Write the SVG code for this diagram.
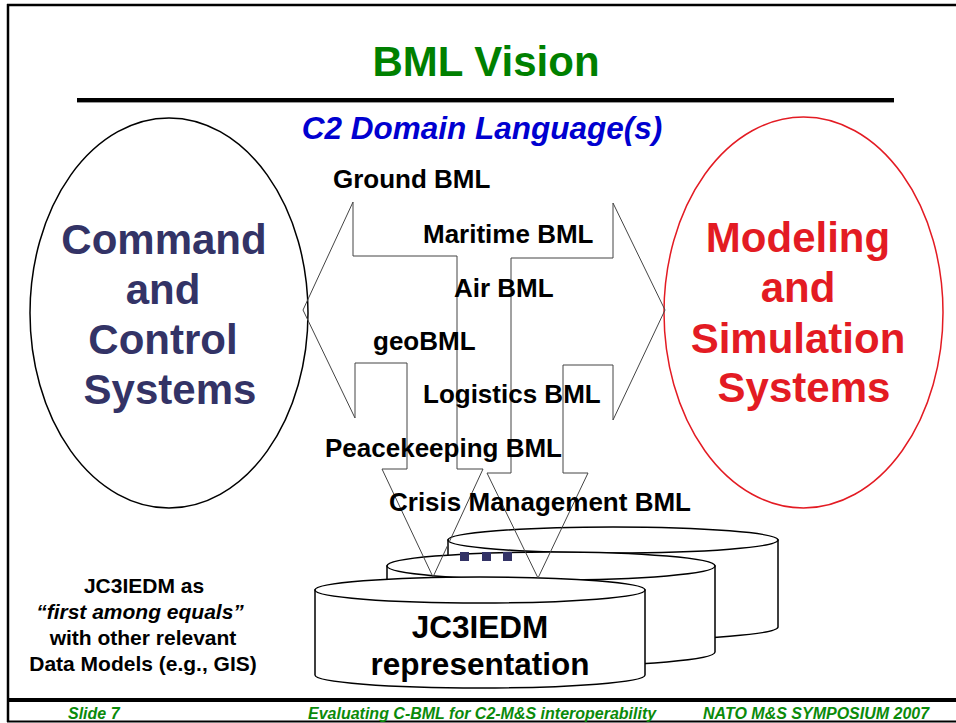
<svg xmlns="http://www.w3.org/2000/svg" width="956" height="723" viewBox="0 0 956 723">
<style>
text{font-family:"Liberation Sans",Arial,sans-serif;font-weight:bold}
.lbl{font-size:26px;fill:#000}
.c2{font-size:42px;fill:#333366;text-anchor:middle}
.ms{font-size:42px;fill:#e31b23;text-anchor:middle}
.note{font-size:21px;fill:#000;text-anchor:middle}
.foot{font-size:16px;fill:#0a8a0a;font-style:italic}
.cyl{fill:#fff;stroke:#000;stroke-width:1.5}
.arr{fill:none;stroke:#444;stroke-width:1}
</style>
<rect width="956" height="723" fill="#fff"/>
<g id="frame">
<line x1="7" y1="5" x2="956" y2="5" stroke="#000" stroke-width="2.5"/>
<line x1="8" y1="4" x2="8" y2="722" stroke="#000" stroke-width="2.5"/>
<line x1="7" y1="721.5" x2="956" y2="721.5" stroke="#000" stroke-width="2"/>
<line x1="8" y1="700" x2="956" y2="700" stroke="#000" stroke-width="4"/>
<rect x="77" y="98" width="817" height="4" fill="#000"/>
<line x1="77" y1="102.5" x2="894" y2="102.5" stroke="#999" stroke-width="1"/>
</g>
<g id="title"><text x="486" y="76" font-size="42" fill="#008000" text-anchor="middle">BML Vision</text></g>
<g id="subtitle"><text x="482" y="139" font-size="31.5" fill="#0000d0" font-style="italic" text-anchor="middle">C2 Domain Language(s)</text></g>
<g id="c2-systems">
<ellipse cx="169" cy="313" rx="139" ry="195" fill="none" stroke="#000" stroke-width="1.5"/>
<text class="c2" x="164" y="254">Command</text>
<text class="c2" x="163" y="304">and</text>
<text class="c2" x="163" y="354">Control</text>
<text class="c2" x="170" y="404">Systems</text>
</g>
<g id="ms-systems">
<ellipse cx="803.5" cy="312.5" rx="139.5" ry="195.5" fill="none" stroke="#e31b23" stroke-width="1.5"/>
<text class="ms" x="798" y="252">Modeling</text>
<text class="ms" x="798" y="302">and</text>
<text class="ms" x="798" y="353">Simulation</text>
<text class="ms" x="804" y="402">Systems</text>
</g>
<g id="data-model-back"><path class="cyl" d="M448 540 V627 A165 13 0 0 0 778 627 V540 Z"/><ellipse class="cyl" cx="613" cy="540" rx="165" ry="13"/></g>
<g id="data-model-middle"><path class="cyl" d="M387 566 V652 A164 14 0 0 0 715 652 V566 Z"/><ellipse class="cyl" cx="551" cy="566" rx="164" ry="14"/>
<rect x="460" y="552" width="9" height="9" fill="#333366"/><rect x="482" y="552" width="9" height="9" fill="#333366"/><rect x="503" y="552" width="9" height="9" fill="#333366"/></g>
<g id="jc3iedm">
<path class="cyl" d="M315 590 V675 A165 13 0 0 0 645 675 V590 Z"/><ellipse class="cyl" cx="480" cy="590" rx="165" ry="13"/>
<text x="480" y="638" font-size="31.5" text-anchor="middle">JC3IEDM</text>
<text x="480" y="675" font-size="31.5" text-anchor="middle">representation</text>
</g>
<g id="connectors">
<polygon class="arr" points="303,310 353,202 353,256 457,256 457,469 483,469 433,577 382,469 407,469 407,363 355,363 355,418"/>
<polygon class="arr" points="511,258 613,258 613,203 665,310 613,420 613,365 563,365 563,473 588,473 538,578 487,473 511,473"/>
</g>
<g id="labels">
<text class="lbl" x="333" y="188">Ground BML</text>
<text class="lbl" x="423" y="243">Maritime BML</text>
<text class="lbl" x="454" y="297">Air BML</text>
<text class="lbl" x="373" y="350">geoBML</text>
<text class="lbl" x="423" y="403">Logistics BML</text>
<text class="lbl" x="325" y="457">Peacekeeping BML</text>
<text class="lbl" x="389" y="511">Crisis Management BML</text>
</g>
<g id="note">
<text class="note" x="144" y="593">JC3IEDM as</text>
<text class="note" x="140" y="619" font-style="italic">“first among equals”</text>
<text class="note" x="143" y="645">with other relevant</text>
<text class="note" x="143" y="671">Data Models (e.g., GIS)</text>
</g>
<g id="footer">
<text class="foot" x="68" y="719">Slide 7</text>
<text class="foot" x="308" y="719">Evaluating C-BML for C2-M&amp;S interoperability</text>
<text class="foot" x="703" y="719">NATO M&amp;S SYMPOSIUM 2007</text>
</g>
</svg>
